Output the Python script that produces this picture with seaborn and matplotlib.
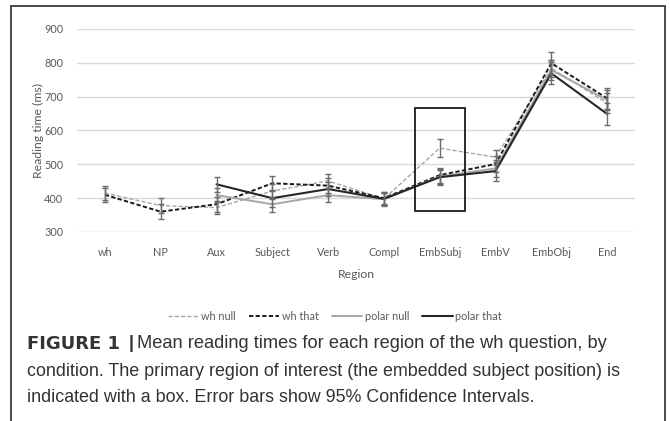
import numpy as np
import pandas as pd
import matplotlib
matplotlib.use("Agg")
import matplotlib.pyplot as plt
from matplotlib.patches import Rectangle
from matplotlib.lines import Line2D
import seaborn as sns

regions = ["wh", "NP", "Aux", "Subject", "Verb", "Compl", "EmbSubj", "EmbV", "EmbObj", "End"]
wh_null = [415, 378, 372, 421, 451, 398, 548, 521, 784, 681]
wh_null_ci = [20, 22, 20, 22, 20, 18, 27, 22, 25, 30]
wh_that = [410, 360, 382, 444, 437, 400, 468, 501, 799, 695]
wh_that_ci = [20, 23, 22, 22, 22, 18, 22, 25, 32, 30]
polar_null = [np.nan, np.nan, 409, 382, 409, 397, 464, 488, 779, 690]
polar_null_ci = [np.nan, np.nan, 20, 22, 20, 18, 22, 25, 30, 30]
polar_that = [np.nan, np.nan, 441, 400, 427, 398, 462, 480, 769, 649]
polar_that_ci = [np.nan, np.nan, 23, 25, 22, 20, 22, 28, 32, 32]
conditions = ["wh null", "wh that", "polar null", "polar that"]
y_ticks = [300, 400, 500, 600, 700, 800, 900]

sns.set_theme(style="white")
plt.rcParams['font.family'] = ['Lato', 'DejaVu Sans']

fig = plt.figure(figsize=(6.7, 4.21), dpi=100)
ax = fig.add_axes([77/670, 1-232/421, (635-77)/670, (232-29)/421])

series = [
    ("wh null", wh_null, wh_null_ci, dict(color="#a6a6a6", lw=1.0, dashes=(3, 1.5))),
    ("wh that", wh_that, wh_that_ci, dict(color="#1a1a1a", lw=1.4, dashes=(2.2, 1.2))),
    ("polar null", polar_null, polar_null_ci, dict(color="#a6a6a6", lw=1.4, dashes=None)),
    ("polar that", polar_that, polar_that_ci, dict(color="#262626", lw=1.5, dashes=None)),
]

x = np.arange(len(regions))
handles = []
for name, vals, ci, st in series:
    df = pd.DataFrame({"x": x, "y": vals}).dropna()
    sns.lineplot(data=df, x="x", y="y", ax=ax, color=st["color"], linewidth=st["lw"],
                 zorder=3)
    line = ax.lines[-1]
    if st["dashes"]:
        line.set_dashes(st["dashes"])
    ax.errorbar(x, vals, yerr=ci, fmt="none", ecolor="#6b6b6b", elinewidth=1.0,
                capsize=2.5, capthick=1.0, zorder=4)
    h = Line2D([], [], color=st["color"], lw=st["lw"])
    if st["dashes"]:
        h.set_dashes(st["dashes"])
    handles.append(h)

# highlight box around region of interest
i_roi = regions.index("EmbSubj")
ax.add_patch(Rectangle((i_roi - 0.45, 362), 0.9, 304, fill=False, edgecolor="#1a1a1a",
                       lw=1.3, zorder=5))

ax.set_xlim(-0.5, len(regions) - 0.5)
ax.set_ylim(300, 900)
ax.set_yticks(y_ticks)
ax.set_xticks(x)
ax.set_xticklabels(regions)
ax.yaxis.grid(True, color="#d9d9d9", lw=1.0)
ax.xaxis.grid(False)
for s in ax.spines.values():
    s.set_visible(False)
ax.tick_params(axis="both", length=0, labelsize=7.8, labelcolor="#595959")
ax.tick_params(axis="y", pad=10)
ax.tick_params(axis="x", pad=10.5)
ax.set_xlabel("Region", fontsize=8.8, color="#595959", labelpad=8.5)
ax.set_ylabel("Reading time (ms)", fontsize=8.8, color="#595959", labelpad=0)

fig.legend(handles, conditions, loc="center", bbox_to_anchor=(335/670, 1-316/421), ncol=4,
           frameon=False, fontsize=7.8, labelcolor="#595959", handlelength=2.8,
           columnspacing=1.2, handletextpad=0.25)

# outer frame
fig.add_artist(Rectangle((11/670, -0.05), (665-11)/670, 1.05 - 6/421, transform=fig.transFigure,
                         fill=False, edgecolor="#3a3a3a", lw=1.3))

cap_font = ['Liberation Sans', 'DejaVu Sans']
cap_size = 12.85
fig.text(27/670, 1-344/421, "FIGURE 1", fontsize=13.0, fontweight="bold", color="#333333",
         va="center", family=['DejaVu Sans'])
fig.text(129/670, 1-344/421, "|", fontsize=cap_size, fontweight="bold", color="#333333",
         va="center", family=cap_font)
fig.text(137/670, 1-344/421, "Mean reading times for each region of the wh question, by",
         fontsize=cap_size + 0.3, color="#333333", va="center", family=cap_font)
fig.text(27/670, 1-371/421, "condition. The primary region of interest (the embedded subject position) is",
         fontsize=cap_size, color="#333333", va="center", family=cap_font)
fig.text(27/670, 1-398/421, "indicated with a box. Error bars show 95% Confidence Intervals.",
         fontsize=cap_size, color="#333333", va="center", family=cap_font)

fig.savefig("out.png", dpi=100)
